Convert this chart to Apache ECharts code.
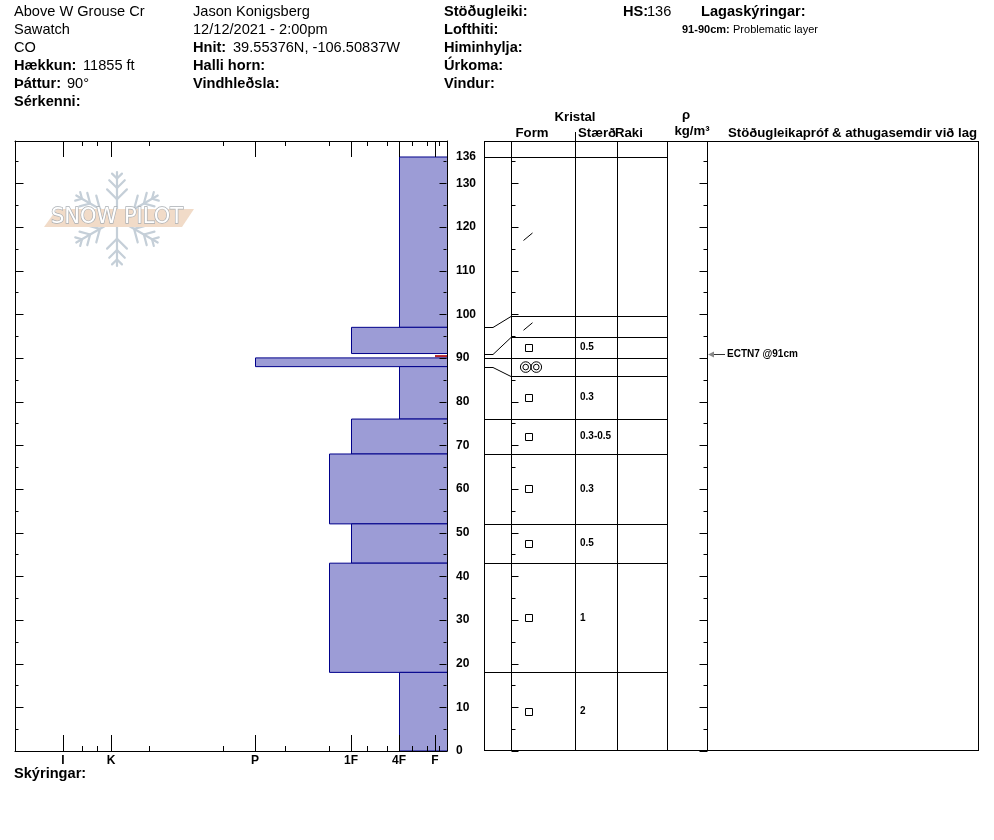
<!DOCTYPE html>
<html><head><meta charset="utf-8">
<script src="https://cdn.jsdelivr.net/npm/echarts@6/dist/echarts.min.js"></script>
<style>html,body{margin:0;padding:0;background:#fff}#c{width:994px;height:840px}</style>
</head><body><div id="c"></div>
<script>
// ---------------- data ----------------
const HS = 136;
const LAYER_TOP      = [136, 97, 91, 90, 88, 76, 68, 52, 43, 18];
const LAYER_BOTTOM   = [97, 91, 90, 88, 76, 68, 52, 43, 18, 0];
const LAYER_HARDNESS = ['4F', '1F', 'F', 'P', '4F', '1F', '1F+', '1F', '1F+', '4F'];
const LAYER_FORM     = ['DF', 'DF', 'FC', 'MFcr', 'FC', 'FC', 'FC', 'FC', 'FC', 'FC'];
const LAYER_SIZE     = ['', '', '0.5', '', '0.3', '0.3-0.5', '0.3', '0.5', '1', '2'];
const TABLE_DISPLAY_TOP = [136, 99.6, 94.9, 90, 85.8, 76, 68, 52, 43, 18];
const PROBLEM_LAYER = [91, 90];
const HARD_MAJOR_CODES  = ['I', 'K', 'P', '1F', '4F', 'F'];
const HARD_MAJOR_VALUES = [32, 28, 16, 8, 4, 1];
const HARD_MINOR_CODES  = ['F-', 'F+', '4F-', '4F+', '1F-', '1F+', 'P-', 'P+', 'K-', 'K+', 'I-'];
const HARD_MINOR_VALUES = [0.67, 1.67, 2.92, 5, 6.67, 9.83, 13.5, 18.67, 24.83, 29.17, 30.42];
const HARD_MAX = 36;
const Y_MAX = 139.66;
const DEPTH_TICKS = [0, 5, 10, 15, 20, 25, 30, 35, 40, 45, 50, 55, 60, 65, 70, 75, 80, 85, 90, 95, 100, 105, 110, 115, 120, 125, 130, 135];
const STABILITY_TEXT  = ['ECTN7 @91cm'];
const STABILITY_DEPTH = [91];

const HEAD_COL1 = ['Above W Grouse Cr', 'Sawatch', 'CO'];
const HEAD_COL2 = ['Jason Konigsberg', '12/12/2021 - 2:00pm'];
const HEAD_COL3 = ['Stöðugleiki:', 'Lofthiti:', 'Himinhylja:', 'Úrkoma:', 'Vindur:'];
const ELEVATION = '11855 ft';
const ASPECT = '90°';
const COORDS = '39.55376N, -106.50837W';
const LAYER_NOTE = ['91-90cm:', 'Problematic layer'];

// ---------------- helpers ----------------
const FONT = '"Liberation Sans", Arial, sans-serif';
const HF = 14.6; // header font size
const TH = 13.2; // table header font size
const hardVal = code => {
  let i = HARD_MAJOR_CODES.indexOf(code);
  if (i >= 0) return HARD_MAJOR_VALUES[i];
  i = HARD_MINOR_CODES.indexOf(code);
  return HARD_MINOR_VALUES[i];
};
const majorLabel = v => {
  const i = HARD_MAJOR_VALUES.findIndex(x => Math.abs(x - v) < 1e-6);
  return i >= 0 ? HARD_MAJOR_CODES[i] : '';
};

const chart = echarts.init(document.getElementById('c'), null, {renderer: 'canvas'});

function txt(x, y, text, opts) {
  opts = opts || {};
  return {
    type: 'text', x: x, y: y, z: 50,
    style: {
      text: text, fill: '#000', font: (opts.bold ? 'bold ' : '') + (opts.size || HF) + 'px ' + FONT,
      textAlign: opts.align || 'left', textVerticalAlign: 'middle'
    }
  };
}

// header graphics
const graphics = [];
HEAD_COL1.forEach((t, i) => graphics.push(txt(14, 12 + 18 * i, t)));
graphics.push(txt(14, 66, 'Hækkun:', {bold: true}), txt(83, 66, ELEVATION));
graphics.push(txt(14, 84, 'Þáttur:', {bold: true}), txt(67, 84, ASPECT));
graphics.push(txt(14, 102, 'Sérkenni:', {bold: true}));
HEAD_COL2.forEach((t, i) => graphics.push(txt(193, 12 + 18 * i, t)));
graphics.push(txt(193, 48, 'Hnit:', {bold: true}), txt(233, 48, COORDS));
graphics.push(txt(193, 66, 'Halli horn:', {bold: true}));
graphics.push(txt(193, 84, 'Vindhleðsla:', {bold: true}));
HEAD_COL3.forEach((t, i) => graphics.push(txt(444, 12 + 18 * i, t, {bold: true})));
graphics.push(txt(623, 12, 'HS:', {bold: true}), txt(647, 12, String(HS)));
graphics.push(txt(701, 12, 'Lagaskýringar:', {bold: true}));
graphics.push({
  type: 'text', x: 682, y: 30, z: 50,
  style: {
    text: '{b|' + LAYER_NOTE[0] + '} {n|' + LAYER_NOTE[1] + '}',
    textVerticalAlign: 'middle',
    rich: {
      b: {font: 'bold 11px ' + FONT, fill: '#000'},
      n: {font: '11px ' + FONT, fill: '#000'}
    }
  }
});
graphics.push(txt(14, 774, 'Skýringar:', {bold: true}));
// table headers
graphics.push(txt(575, 117, 'Kristal', {bold: true, size: TH, align: 'center'}));
graphics.push(txt(532, 133, 'Form', {bold: true, size: TH, align: 'center'}));
graphics.push(txt(578, 133, 'Stærð', {bold: true, size: TH}));
graphics.push(txt(615, 133, 'Raki', {bold: true, size: TH}));
graphics.push(txt(686, 115, 'ρ', {bold: true, size: TH, align: 'center'}));
graphics.push(txt(692, 131, 'kg/m³', {bold: true, size: TH, align: 'center'}));
graphics.push(txt(728, 133, 'Stöðugleikapróf & athugasemdir við lag', {bold: true, size: TH}));

// watermark (decoration)
(function () {
  const cx = 117, cy = 219, R = 47, col = '#c5cfd8';
  const ln = (x1, y1, x2, y2) => ({
    type: 'line', z: 1, shape: {x1: x1, y1: y1, x2: x2, y2: y2},
    style: {stroke: col, lineWidth: 2.2, lineCap: 'round'}
  });
  for (let k = 0; k < 6; k++) {
    const a = Math.PI / 2 + k * Math.PI / 3;
    const ux = Math.cos(a), uy = -Math.sin(a);
    graphics.push(ln(cx + ux * 6, cy + uy * 6, cx + ux * R, cy + uy * R));
    [[0.42, 14], [0.66, 11], [0.86, 7]].forEach(([t, l]) => {
      const px = cx + ux * R * t, py = cy + uy * R * t;
      [1, -1].forEach(s => {
        const b = a + s * Math.PI / 4;
        graphics.push(ln(px, py, px + Math.cos(b) * l, py - Math.sin(b) * l));
      });
    });
  }
  graphics.push({
    type: 'polygon', z: 2,
    shape: {points: [[57, 209], [194, 209], [182, 227], [44, 227]]},
    style: {fill: '#f1dbc8'}
  });
  graphics.push({
    type: 'text', x: 117, y: 218, z: 3,
    style: {
      text: 'SNOW PILOT', font: '21px "DejaVu Sans", sans-serif', fill: '#ffffff',
      stroke: '#a9aeb3', lineWidth: 1.3, textAlign: 'center', textVerticalAlign: 'middle'
    }
  });
})();

// ---------------- axes ----------------
const yCommon = {type: 'value', min: 0, max: Y_MAX, interval: 10, splitLine: {show: false}, z: 6,
                 axisTick: {show: false}, minorTick: {show: false}};
const xHard = (pos, ticks, len, line, labels) => ({
  type: 'value', gridIndex: 0, position: pos, min: 0, max: HARD_MAX, inverse: true, z: 6,
  splitLine: {show: false},
  axisLine: {show: line, onZero: false, lineStyle: {color: '#000', width: 1}},
  axisTick: {show: true, inside: true, length: len, customValues: ticks, lineStyle: {color: '#000', width: 1}},
  axisLabel: labels ? {
    show: true, customValues: HARD_MAJOR_VALUES, formatter: v => majorLabel(v), margin: 4,
    color: '#000', fontWeight: 'bold', fontSize: 12, fontFamily: FONT
  } : {show: false}
});

const TBL = {c1: 27, c2: 91, c3: 133, c4: 183, c5: 223}; // column offsets (layout)

function depthTickSeries(yIdx, xIdx, marks) {
  return {
    type: 'custom', xAxisIndex: xIdx, yAxisIndex: yIdx, z: 8, silent: true,
    data: DEPTH_TICKS.map(v => [0, v]),
    renderItem: (params, api) => {
      const v = api.value(1);
      const cs = params.coordSys;
      const y = Math.round(api.coord([0, v])[1]) + 0.5;
      const major = v % 10 === 0;
      const ch = marks.map(m => {
        const x = (m.fromRight ? cs.x + cs.width - m.off : cs.x + m.off);
        const len = major ? m.major : m.minor;
        return {type: 'line', shape: {x1: x, y1: y, x2: x + m.dir * len, y2: y},
                style: {stroke: '#000', lineWidth: 1}};
      });
      return {type: 'group', children: ch};
    }
  };
}

const option = {
  animation: false,
  backgroundColor: '#fff',
  graphic: graphics,
  grid: [
    {left: 15, right: 547, top: 141, bottom: 89, containLabel: false},
    {left: 484, right: 15, top: 141, bottom: 89, containLabel: false}
  ],
  xAxis: [
    xHard('bottom', HARD_MAJOR_VALUES, 16, true, true),
    xHard('bottom', HARD_MINOR_VALUES, 5, false, false),
    xHard('top', HARD_MAJOR_VALUES, 16, true, false),
    xHard('top', HARD_MINOR_VALUES, 5, false, false),
    {type: 'value', gridIndex: 1, min: 0, max: 1, show: false}
  ],
  yAxis: [
    Object.assign({}, yCommon, {
      gridIndex: 0, position: 'left',
      axisLine: {show: true, onZero: false, lineStyle: {color: '#000', width: 1}},
      axisLabel: {show: false}
    }),
    Object.assign({}, yCommon, {
      gridIndex: 0, position: 'right',
      axisLine: {show: true, onZero: false, lineStyle: {color: '#000', width: 1}},
      axisLabel: {
        show: true, margin: 9, color: '#000', fontWeight: 'bold', fontSize: 12, fontFamily: FONT,
        formatter: v => (Math.abs(v % 10) < 1e-6 ? String(v) : '')
      }
    }),
    Object.assign({}, yCommon, {gridIndex: 1, show: false})
  ],
  series: [
    // hardness profile
    {
      type: 'custom', name: 'hardness', xAxisIndex: 0, yAxisIndex: 0, z: 3,
      data: LAYER_TOP.map((t, i) => [t, LAYER_BOTTOM[i], hardVal(LAYER_HARDNESS[i])]),
      renderItem: (params, api) => {
        const top = api.value(0), bot = api.value(1), h = api.value(2);
        const p1 = api.coord([h, top]), p2 = api.coord([0, bot]);
        const x = Math.min(p1[0], p2[0]), w = Math.abs(p2[0] - p1[0]);
        const y = p1[1], hh = p2[1] - p1[1];
        if (top === PROBLEM_LAYER[0] && bot === PROBLEM_LAYER[1]) {
          return {type: 'rect', shape: {x: x, y: y + hh * 0.35, width: w, height: hh * 0.5},
                  style: {fill: '#b3262b'}};
        }
        return {type: 'rect', shape: {x: Math.round(x) + 0.5, y: y, width: w, height: hh},
                style: {fill: '#9c9cd6', stroke: '#00008b', lineWidth: 1}};
      }
    },
    // depth ticks on the hardness plot edges
    depthTickSeries(0, 0, [
      {off: 0.5, dir: 1, major: 8, minor: 3},
      {off: 0.5, fromRight: true, dir: -1, major: 7, minor: 3}
    ]),
    // HS label on left plot axis
    {
      type: 'custom', name: 'hs', xAxisIndex: 0, yAxisIndex: 0, z: 4,
      data: [[0, HS]],
      renderItem: (params, api) => {
        const p = api.coord([0, api.value(1)]);
        return {type: 'text', x: p[0] + 9, y: p[1],
                style: {text: String(api.value(1)), font: 'bold 12px ' + FONT, fill: '#000',
                        textAlign: 'left', textVerticalAlign: 'middle'}};
      }
    },
    // table frame
    {
      type: 'custom', name: 'frame', xAxisIndex: 4, yAxisIndex: 2, z: 3,
      data: [[0, 0]],
      renderItem: (params, api) => {
        const cs = params.coordSys;
        const L = cs.x, T = cs.y, B = cs.y + cs.height, R = cs.x + cs.width;
        const st = {stroke: '#000', lineWidth: 1};
        const ch = [];
        [0, TBL.c1, TBL.c2, TBL.c3, TBL.c4, TBL.c5].forEach(o => {
          const xx = Math.round(L + o) + 0.5;
          ch.push({type: 'line', shape: {x1: xx, y1: T, x2: xx, y2: B}, style: st});
        });
        ch.push({type: 'line', shape: {x1: R - 0.5, y1: T, x2: R - 0.5, y2: B}, style: st});
        ch.push({type: 'line', shape: {x1: L + TBL.c2 + 0.5, y1: T - 9, x2: L + TBL.c2 + 0.5, y2: T}, style: st});
        ch.push({type: 'line', shape: {x1: L, y1: T + 0.5, x2: R, y2: T + 0.5}, style: st});
        ch.push({type: 'line', shape: {x1: L, y1: B - 0.5, x2: R, y2: B - 0.5}, style: st});
        return {type: 'group', children: ch};
      }
    },
    // depth ticks inside the table
    depthTickSeries(2, 4, [
      {off: TBL.c1 + 0.5, dir: 1, major: 7, minor: 4},
      {off: TBL.c5 + 0.5, dir: -1, major: 8, minor: 4}
    ]),
    // layer boundaries in table
    {
      type: 'custom', name: 'boundaries', xAxisIndex: 4, yAxisIndex: 2, z: 3,
      data: LAYER_TOP.map((t, i) => [t, TABLE_DISPLAY_TOP[i]]),
      renderItem: (params, api) => {
        const cs = params.coordSys;
        const yr = Math.round(api.coord([0, api.value(0)])[1]) + 0.5;
        const yd = Math.round(api.coord([0, api.value(1)])[1]) + 0.5;
        return {type: 'polyline', shape: {points: [
          [cs.x, yr], [cs.x + 9, yr], [cs.x + TBL.c1, yd], [cs.x + TBL.c4, yd]]},
          style: {stroke: '#000', lineWidth: 1, fill: null}};
      }
    },
    // grain forms and sizes
    {
      type: 'custom', name: 'crystals', xAxisIndex: 4, yAxisIndex: 2, z: 4,
      data: LAYER_TOP.map((t, i) => [TABLE_DISPLAY_TOP[i], i + 1 < TABLE_DISPLAY_TOP.length ? TABLE_DISPLAY_TOP[i + 1] : 0]),
      renderItem: (params, api) => {
        const i = params.dataIndex;
        const cs = params.coordSys;
        const mid = (api.value(0) + api.value(1)) / 2;
        const y = api.coord([0, mid])[1];
        const x = cs.x + 44;
        const st = {stroke: '#000', lineWidth: 1, fill: null};
        const ch = [];
        const f = LAYER_FORM[i];
        if (f === 'FC') {
          ch.push({type: 'rect', shape: {x: Math.round(x - 3.5) + 0.5, y: Math.round(y - 3.5) + 0.5, width: 7, height: 7}, style: st});
        } else if (f === 'DF') {
          ch.push({type: 'line', shape: {x1: x - 4.5, y1: y + 4, x2: x + 4.5, y2: y - 3.5}, style: st});
        } else if (f === 'MFcr') {
          [-5.3, 5.3].forEach(dx => {
            ch.push({type: 'circle', shape: {cx: x + 3 + dx, cy: y, r: 5.3}, style: st});
            ch.push({type: 'circle', shape: {cx: x + 3 + dx, cy: y, r: 2.8}, style: st});
          });
        }
        if (LAYER_SIZE[i]) {
          ch.push({type: 'text', x: cs.x + 96, y: y,
                   style: {text: LAYER_SIZE[i], font: 'bold 10px ' + FONT, fill: '#000',
                           textAlign: 'left', textVerticalAlign: 'middle'}});
        }
        return {type: 'group', children: ch};
      }
    },
    // stability tests
    {
      type: 'custom', name: 'stability', xAxisIndex: 4, yAxisIndex: 2, z: 4,
      data: STABILITY_DEPTH.map(d => [0, d]),
      renderItem: (params, api) => {
        const i = params.dataIndex;
        const cs = params.coordSys;
        const y = Math.round(api.coord([0, api.value(1)])[1]) + 0.5;
        const x0 = cs.x + TBL.c5 + 1;
        return {type: 'group', children: [
          {type: 'line', shape: {x1: x0 + 4, y1: y, x2: x0 + 17, y2: y}, style: {stroke: '#333', lineWidth: 1}},
          {type: 'polygon', shape: {points: [[x0, y], [x0 + 6, y - 3], [x0 + 6, y + 3]]}, style: {fill: '#888'}},
          {type: 'text', x: x0 + 19, y: y,
           style: {text: STABILITY_TEXT[i], font: 'bold 10px ' + FONT, fill: '#000',
                   textAlign: 'left', textVerticalAlign: 'middle'}}
        ]};
      }
    }
  ]
};
chart.setOption(option);
</script>
</body></html>
